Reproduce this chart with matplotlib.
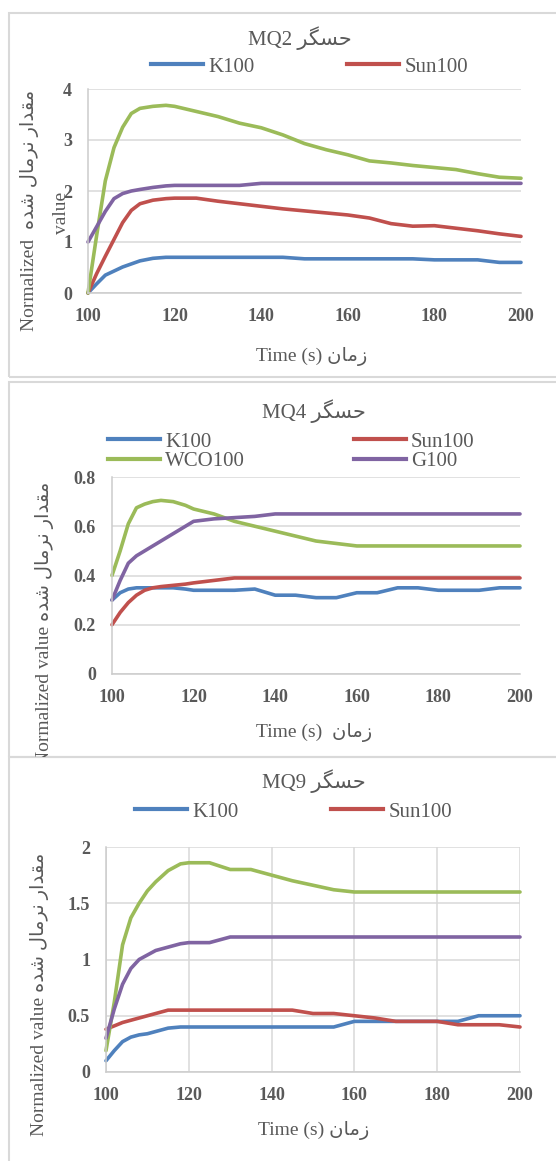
import numpy as np
import matplotlib
matplotlib.use("Agg")
import matplotlib.pyplot as plt
from matplotlib.patches import Rectangle
from matplotlib.lines import Line2D
from matplotlib.transforms import Bbox, TransformedBbox
from matplotlib.ticker import FuncFormatter

# ---- data ----
t = [100, 102, 104, 106, 108, 110, 112, 115, 118, 120, 125, 130, 135,
     140, 145, 150, 155, 160, 165, 170, 175, 180, 185, 190, 195, 200]

mq2_k100 = [0, 0.18, 0.35, 0.43, 0.51, 0.57, 0.63, 0.68, 0.70, 0.70, 0.70, 0.70, 0.70,
            0.70, 0.70, 0.67, 0.67, 0.67, 0.67, 0.67, 0.67, 0.65, 0.65, 0.65, 0.60, 0.60]
mq2_sun100 = [0, 0.38, 0.72, 1.05, 1.38, 1.62, 1.75, 1.82, 1.85, 1.86, 1.86, 1.80, 1.75,
              1.70, 1.65, 1.61, 1.57, 1.53, 1.47, 1.36, 1.31, 1.32, 1.27, 1.22, 1.16, 1.11]
mq2_wco100 = [0, 1.13, 2.2, 2.85, 3.25, 3.52, 3.62, 3.66, 3.68, 3.66, 3.56, 3.46, 3.33,
              3.24, 3.10, 2.93, 2.81, 2.71, 2.59, 2.55, 2.50, 2.46, 2.42, 2.34, 2.27, 2.25]
mq2_g100 = [1.0, 1.3, 1.6, 1.85, 1.95, 2.0, 2.03, 2.07, 2.10, 2.11, 2.11, 2.11, 2.11,
            2.15, 2.15, 2.15, 2.15, 2.15, 2.15, 2.15, 2.15, 2.15, 2.15, 2.15, 2.15, 2.15]

mq4_k100 = [0.30, 0.33, 0.345, 0.35, 0.35, 0.35, 0.35, 0.35, 0.345, 0.34, 0.34, 0.34, 0.345,
            0.32, 0.32, 0.31, 0.31, 0.33, 0.33, 0.35, 0.35, 0.34, 0.34, 0.34, 0.35, 0.35]
mq4_sun100 = [0.20, 0.25, 0.29, 0.32, 0.34, 0.35, 0.355, 0.36, 0.365, 0.37, 0.38, 0.39, 0.39,
              0.39, 0.39, 0.39, 0.39, 0.39, 0.39, 0.39, 0.39, 0.39, 0.39, 0.39, 0.39, 0.39]
mq4_wco100 = [0.40, 0.50, 0.61, 0.675, 0.69, 0.70, 0.705, 0.70, 0.685, 0.67, 0.65, 0.62, 0.60,
              0.58, 0.56, 0.54, 0.53, 0.52, 0.52, 0.52, 0.52, 0.52, 0.52, 0.52, 0.52, 0.52]
mq4_g100 = [0.30, 0.38, 0.45, 0.48, 0.50, 0.52, 0.54, 0.57, 0.60, 0.62, 0.63, 0.635, 0.64,
            0.65, 0.65, 0.65, 0.65, 0.65, 0.65, 0.65, 0.65, 0.65, 0.65, 0.65, 0.65, 0.65]

mq9_k100 = [0.10, 0.19, 0.27, 0.31, 0.33, 0.34, 0.36, 0.39, 0.40, 0.40, 0.40, 0.40, 0.40,
            0.40, 0.40, 0.40, 0.40, 0.45, 0.45, 0.45, 0.45, 0.45, 0.45, 0.50, 0.50, 0.50]
mq9_sun100 = [0.38, 0.41, 0.44, 0.46, 0.48, 0.50, 0.52, 0.55, 0.55, 0.55, 0.55, 0.55, 0.55,
              0.55, 0.55, 0.52, 0.52, 0.50, 0.48, 0.45, 0.45, 0.45, 0.42, 0.42, 0.42, 0.40]
mq9_wco100 = [0.19, 0.62, 1.13, 1.37, 1.50, 1.61, 1.69, 1.79, 1.85, 1.86, 1.86, 1.80, 1.80,
              1.75, 1.70, 1.66, 1.62, 1.60, 1.60, 1.60, 1.60, 1.60, 1.60, 1.60, 1.60, 1.60]
mq9_g100 = [0.30, 0.56, 0.78, 0.92, 1.00, 1.04, 1.08, 1.11, 1.14, 1.15, 1.15, 1.20, 1.20,
            1.20, 1.20, 1.20, 1.20, 1.20, 1.20, 1.20, 1.20, 1.20, 1.20, 1.20, 1.20, 1.20]

series_names = ["K100", "Sun100", "WCO100", "G100"]
colors = ["#4F81BD", "#C0504D", "#9BBB59", "#8064A2"]

# persian words, already shaped + in visual order
hesgar = "\uFEAE\uFB95\uFEB4\uFEA3"
zaman = "\uFEE5\uFE8E\uFEE3\uFEAF"
fa_ylabel = "\uFEE9\uFEAA\uFEB7 \uFEDD\uFE8E\uFEE3\uFEAE\uFEE7 \uFEAD\uFE8D\uFEAA\uFED8\uFEE3"

W, H = 556, 1161
GRAY = "#595959"
FAM = ["Liberation Serif", "DejaVu Sans"]

fig = plt.figure(figsize=(W / 100, H / 100), dpi=100)


def fx(px):
    return px / W


def fy(py):
    return 1 - py / H


def make_ax(l, r, top, bot, ylim, yticks, vgrid):
    ax = fig.add_axes([fx(l), fy(bot), fx(r - l), (bot - top) / H])
    ax.set_xlim(100, 200)
    ax.set_ylim(*ylim)
    ax.set_xticks(range(100, 201, 20))
    ax.set_yticks(yticks)
    ax.yaxis.set_major_formatter(FuncFormatter(lambda v, p: f"{v:g}"))
    ax.grid(axis="y", color="#D9D9D9", lw=1.1)
    if vgrid:
        ax.grid(axis="x", color="#D9D9D9", lw=1.1)
    ax.set_axisbelow(True)
    for s in ["top", "right"]:
        ax.spines[s].set_visible(False)
    for s in ["left", "bottom"]:
        ax.spines[s].set_color("#CCCCCC")
        ax.spines[s].set_linewidth(1.1)
    ax.tick_params(length=0, labelcolor=GRAY)
    ax.tick_params(axis="y", pad=11.5)
    ax.tick_params(axis="x", pad=11)
    for lab in ax.get_xticklabels() + ax.get_yticklabels():
        lab.set_fontfamily("Liberation Serif")
        lab.set_fontweight("bold")
        lab.set_fontsize(13)
    return ax


def draw_lines(ax, data):
    for vals, c in zip(data, colors):
        ax.plot(t, vals, color=c, lw=2.6, solid_joinstyle="round",
                solid_capstyle="round", clip_on=False)


def add_legend(ax, n, x, ytop, colsp):
    # legend fills column by column, so order entries to read row by row
    order = [0, 2, 1, 3] if n == 4 else list(range(n))
    handles = [Line2D([], [], color=colors[i], lw=3) for i in order]
    ax.legend(handles, [series_names[i] for i in order], loc="upper left",
              bbox_to_anchor=(fx(x), fy(ytop)), bbox_transform=fig.transFigure,
              ncol=2, frameon=False, borderpad=0, borderaxespad=0,
              handlelength=2.5, handletextpad=0.25, columnspacing=colsp,
              labelspacing=0.0, labelcolor=GRAY,
              prop={"family": "Liberation Serif", "size": 15})


def panel_box(top, bot):
    fig.add_artist(Rectangle((fx(9), fy(bot)), fx(600), (bot - top) / H,
                             transform=fig.transFigure, fill=False,
                             ec="#D9D9D9", lw=1.5))


# ---- panel 1 : MQ2 ----
panel_box(13, 377)
ax1 = make_ax(88, 521, 89, 293, (0, 4), [0, 1, 2, 3, 4], False)
draw_lines(ax1, [mq2_k100, mq2_sun100, mq2_wco100, mq2_g100])
add_legend(ax1, 2, 151, 57, 4.45)
fig.text(fx(300), fy(38), "MQ2 " + hesgar, ha="center", va="center",
         fontsize=15, color=GRAY, family=FAM)
fig.text(fx(30), fy(210), "Normalized  " + fa_ylabel, rotation=90,
         ha="center", va="center", fontsize=14, color=GRAY, family=FAM)
fig.text(fx(62), fy(213), "value", rotation=90, ha="center", va="center",
         fontsize=14, color=GRAY, family=FAM)
fig.text(fx(312), fy(356), "Time (s) " + zaman, ha="center", va="center",
         fontsize=14, color=GRAY, family=FAM)

# ---- panel 2 : MQ4 ----
panel_box(382, 757)
ax2 = make_ax(112, 520, 477, 674, (0, 0.8), [0, 0.2, 0.4, 0.6, 0.8], False)
draw_lines(ax2, [mq4_k100, mq4_sun100, mq4_wco100, mq4_g100])
add_legend(ax2, 4, 108, 432, 5.2)
fig.text(fx(314), fy(411), "MQ4 " + hesgar, ha="center", va="center",
         fontsize=15, color=GRAY, family=FAM)
yl2 = fig.text(fx(45), fy(482), "Normalized value " + fa_ylabel, rotation=90,
               ha="center", va="top", fontsize=14, color=GRAY, family=FAM)
yl2.set_clip_box(TransformedBbox(Bbox.from_extents(0, fy(757), 1, fy(382)),
                                 fig.transFigure))
yl2.set_clip_on(True)
fig.text(fx(314), fy(733), "Time (s)  " + zaman, ha="center", va="center",
         fontsize=14, color=GRAY, family=FAM)

# ---- panel 3 : MQ9 ----
panel_box(757, 1170)
ax3 = make_ax(106, 520, 847, 1072, (0, 2), [0, 0.5, 1, 1.5, 2], True)
draw_lines(ax3, [mq9_k100, mq9_sun100, mq9_wco100, mq9_g100])
add_legend(ax3, 2, 135, 802, 4.45)
fig.text(fx(314), fy(781), "MQ9 " + hesgar, ha="center", va="center",
         fontsize=15, color=GRAY, family=FAM)
fig.text(fx(40), fy(994), "Normalized value " + fa_ylabel, rotation=90,
         ha="center", va="center", fontsize=14, color=GRAY, family=FAM)
fig.text(fx(314), fy(1130), "Time (s) " + zaman, ha="center", va="center",
         fontsize=14, color=GRAY, family=FAM)

fig.savefig("out.png", dpi=100)
